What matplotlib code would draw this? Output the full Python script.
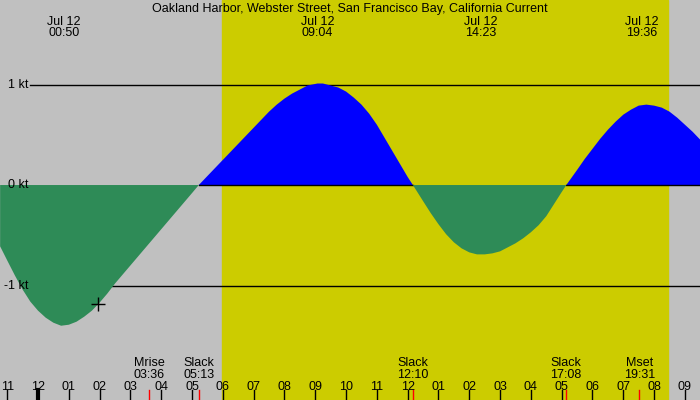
import numpy as np
import matplotlib
matplotlib.use('Agg')
import matplotlib.pyplot as plt
import matplotlib.transforms as mtransforms

# hours after midnight, Jul 12 and current speed in knots
hours = [-1.23, -1.0, -0.75, -0.5, -0.25, 0.0, 0.25, 0.5, 0.75, 1.0, 1.25, 1.5, 1.75, 2.0, 2.25,
         2.5, 2.75, 3.0, 3.25, 3.5, 3.75, 4.0, 4.25, 4.5, 4.75, 5.0, 5.22,
         5.5, 6.0, 6.5, 7.0, 7.25, 7.5, 7.75, 8.0, 8.25, 8.5, 8.75, 9.07, 9.25, 9.5, 9.75,
         10.0, 10.25, 10.5, 10.75, 11.0, 11.25, 11.5, 11.75, 12.0, 12.17,
         12.5, 12.75, 13.0, 13.25, 13.5, 13.75, 14.0, 14.25, 14.5, 14.75, 15.0, 15.25, 15.5,
         15.75, 16.0, 16.25, 16.5, 16.75, 17.0, 17.15,
         17.5, 17.75, 18.0, 18.25, 18.5, 18.75, 19.0, 19.25, 19.5, 19.75, 20.0, 20.25, 20.5,
         20.75, 21.0, 21.25, 21.5]
knots = [-0.61, -0.75, -0.90, -1.04, -1.16, -1.25, -1.32, -1.37, -1.40, -1.39, -1.36, -1.31, -1.25, -1.17, -1.08,
         -0.98, -0.89, -0.80, -0.71, -0.62, -0.53, -0.44, -0.35, -0.26, -0.17, -0.08, 0.0,
         0.09, 0.25, 0.41, 0.57, 0.65, 0.73, 0.80, 0.86, 0.91, 0.95, 0.99, 1.01, 1.01, 0.99, 0.97,
         0.93, 0.87, 0.80, 0.71, 0.60, 0.47, 0.34, 0.21, 0.08, 0.0,
         -0.16, -0.28, -0.39, -0.49, -0.57, -0.63, -0.67, -0.69, -0.69, -0.68, -0.66, -0.62, -0.58,
         -0.53, -0.47, -0.40, -0.31, -0.19, -0.07, 0.0,
         0.15, 0.26, 0.36, 0.46, 0.55, 0.63, 0.70, 0.75, 0.79, 0.80, 0.79, 0.77, 0.73,
         0.67, 0.60, 0.53, 0.45]

title = 'Oakland Harbor, Webster Street, San Francisco Bay, California Current'
sunrise, sunset = 5.97, 20.45
max_times = [0.833, 9.067, 14.383, 19.6]
max_labels = ['00:50', '09:04', '14:23', '19:36']
event_times = [3.6, 5.217, 12.167, 17.133, 19.517]
event_names = ['Mrise', 'Slack', 'Slack', 'Slack', 'Mset']
event_labels = ['03:36', '05:13', '12:10', '17:08', '19:31']
now_time, now_value = 1.94, -1.18
hour_ticks = list(range(-1, 22))
kt_levels = [1, 0, -1]

t = np.array(hours)
v = np.array(knots)

plt.rcParams['font.family'] = ['Liberation Sans', 'DejaVu Sans']
fig = plt.figure(figsize=(7, 4), dpi=100)
ax = fig.add_axes([0, 0, 1, 1])
ax.set_xlim(-1.234, 21.49)
ax.set_ylim(-2.139, 1.841)
ax.set_facecolor('#c0c0c0')
ax.axis('off')
fig.patch.set_facecolor('#c0c0c0')

ax.axvspan(sunrise, sunset, color='#cccc00', zorder=0)

# reference lines behind the fills
for lvl in [1, -1]:
    ax.axhline(lvl, xmin=30 / 700, xmax=1, color='black', lw=1, zorder=1)

ax.fill_between(t, v, 0, where=v >= 0, interpolate=True, color='#0000ff', lw=0, zorder=2)
ax.plot(t, np.where(v >= 0, 0, np.nan), color='black', lw=1, zorder=3)
ax.fill_between(t, v, 0, where=v <= 0, interpolate=True, color='#2e8b57', lw=0, zorder=4)

ax.plot(now_time, now_value, marker='+', color='black', ms=10, mew=1, zorder=6)

blend = mtransforms.blended_transform_factory(ax.transData, ax.transAxes)
fs = 9
ls = 0.93


def ypix(y):
    # pixel row from the top -> axes fraction
    return 1 - y / 400


ax.text(0.5, ypix(12), title, transform=ax.transAxes, ha='center', va='baseline', fontsize=fs, zorder=7)
for tm, lab in zip(max_times, max_labels):
    ax.text(tm, ypix(39), 'Jul 12\n' + lab, transform=blend, ha='center', va='bottom',
            fontsize=fs, linespacing=ls, zorder=7)
for tm, nm, lab in zip(event_times, event_names, event_labels):
    ax.text(tm, ypix(380.5), nm + '\n' + lab, transform=blend, ha='center', va='bottom',
            fontsize=fs, linespacing=ls, zorder=7)
    ax.plot([tm, tm], [0, 10 / 400], transform=blend, color='red', lw=1, zorder=7)

for h in hour_ticks:
    lab = '%02d' % ((h % 12) or 12)
    ax.text(h, ypix(390), lab, transform=blend, ha='center', va='baseline', fontsize=fs, zorder=7)
    ax.plot([h, h], [0, 10 / 400], transform=blend, color='black', lw=3 if h % 24 == 0 else 1, zorder=7)

for lvl in kt_levels:
    ax.text(-1.234 + 28 / 30.8, lvl, '%d kt' % lvl, ha='right', va='center', fontsize=fs, zorder=7)

fig.savefig('out.png', dpi=100, facecolor=fig.get_facecolor())
